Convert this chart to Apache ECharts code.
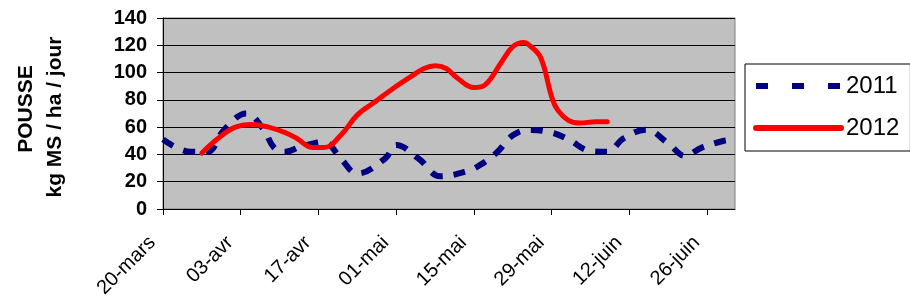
<!DOCTYPE html>
<html>
<head>
<meta charset="utf-8">
<script src="https://cdn.jsdelivr.net/npm/echarts@6/dist/echarts.min.js"></script>
<style>
html,body{margin:0;padding:0;background:#fff;}
#chart{width:910px;height:305px;}
</style>
</head>
<body>
<div id="chart"></div>
<script>
// x values are day offsets from 20-mars
var tickDays = [0, 14, 28, 42, 56, 70, 84, 98];
var tickLabels = ['20-mars', '03-avr', '17-avr', '01-mai', '15-mai', '29-mai', '12-juin', '26-juin'];

var days2011 = [0, 5, 8, 11, 15, 18, 20, 22, 25, 29, 32, 35, 40, 42, 46, 50, 55, 57, 60, 63, 66, 70, 73, 77, 80, 83, 87, 91, 94, 97, 101, 103];
var vals2011 = [51, 42, 42, 58, 70, 59, 45, 42, 46, 49, 37, 26, 37, 47, 37, 24, 28, 32, 41, 54, 58, 56, 51, 42.5, 42, 52, 58, 48, 39, 45, 50, 51];

var days2012 = [7, 10, 13, 16, 19, 22, 24, 27, 29, 32, 35, 38, 42, 45, 47, 49, 51, 53, 56, 58, 61, 63, 65, 66, 68, 70, 71, 73, 75, 78, 80];
var vals2012 = [41, 52, 60, 62, 60, 56, 52, 45, 45, 54, 69, 78, 90, 98, 103, 105, 103, 96, 89, 91, 108, 119, 122, 120, 111, 82, 73, 65, 63, 64, 64];

var seriesNames = ['2011', '2012'];

function pairs(d, v) { return d.map(function (x, i) { return [x, v[i]]; }); }

var FONT = 'Liberation Sans, Arial, sans-serif';
var chart = echarts.init(document.getElementById('chart'), null, {renderer: 'canvas'});
chart.setOption({
  animation: false,
  grid: {left: 163, right: 175, top: 18, bottom: 96, show: true, backgroundColor: '#C0C0C0', borderColor: '#808080', borderWidth: 1},
  legend: {
    orient: 'vertical', left: 745, top: 64,
    data: [
      {name: seriesNames[0], lineStyle: {width: 6, type: [12, 24], color: '#000080'}},
      {name: seriesNames[1], lineStyle: {width: 6, cap: 'round', color: '#FF0000'}}
    ],
    itemWidth: 85, itemHeight: 24, itemGap: 18,
    padding: [10, 11, 11, 8],
    borderColor: '#000', borderWidth: 1, backgroundColor: '#fff',
    itemStyle: {opacity: 0},
    textStyle: {fontFamily: FONT, fontSize: 24, color: '#000'}
  },
  xAxis: {
    type: 'value', min: 0, max: 103,
    axisLine: {show: true, lineStyle: {color: '#000', width: 1}},
    axisTick: {show: true, length: 6, lineStyle: {color: '#000'}, customValues: tickDays},
    axisLabel: {
      customValues: tickDays, rotate: 45, margin: 20, padding: [0, 15, 0, 0],
      fontFamily: FONT, fontSize: 20, color: '#000',
      formatter: function (v) { var i = tickDays.indexOf(v); return i >= 0 ? tickLabels[i] : ''; }
    },
    splitLine: {show: false}
  },
  yAxis: {
    type: 'value', min: 0, max: 140, interval: 20,
    axisLine: {show: true, lineStyle: {color: '#000', width: 1}},
    axisTick: {show: true, length: 6, lineStyle: {color: '#000'}},
    axisLabel: {margin: 16, fontFamily: FONT, fontSize: 20, fontWeight: 'bold', color: '#000'},
    splitLine: {show: true, lineStyle: {color: '#000', width: 1}}
  },
  graphic: [
    {type: 'text', x: 26, y: 109, rotation: Math.PI / 2,
     style: {text: 'POUSSE', font: 'bold 21px ' + FONT, fill: '#000', textAlign: 'center', textVerticalAlign: 'middle'}},
    {type: 'text', x: 55, y: 117, rotation: Math.PI / 2,
     style: {text: 'kg MS / ha / jour', font: 'bold 21px ' + FONT, fill: '#000', textAlign: 'center', textVerticalAlign: 'middle'}}
  ],
  series: [
    {name: seriesNames[0], type: 'line', data: pairs(days2011, vals2011), smooth: 0.4, symbol: 'none',
     lineStyle: {color: '#000080', width: 6, type: [12, 11], cap: 'butt'}, itemStyle: {color: '#000080'}, z: 2},
    {name: seriesNames[1], type: 'line', data: pairs(days2012, vals2012), smooth: 0.4, symbol: 'none',
     lineStyle: {color: '#FF0000', width: 5, cap: 'round', join: 'round'}, itemStyle: {color: '#FF0000'}, z: 3}
  ]
});
</script>
</body>
</html>
